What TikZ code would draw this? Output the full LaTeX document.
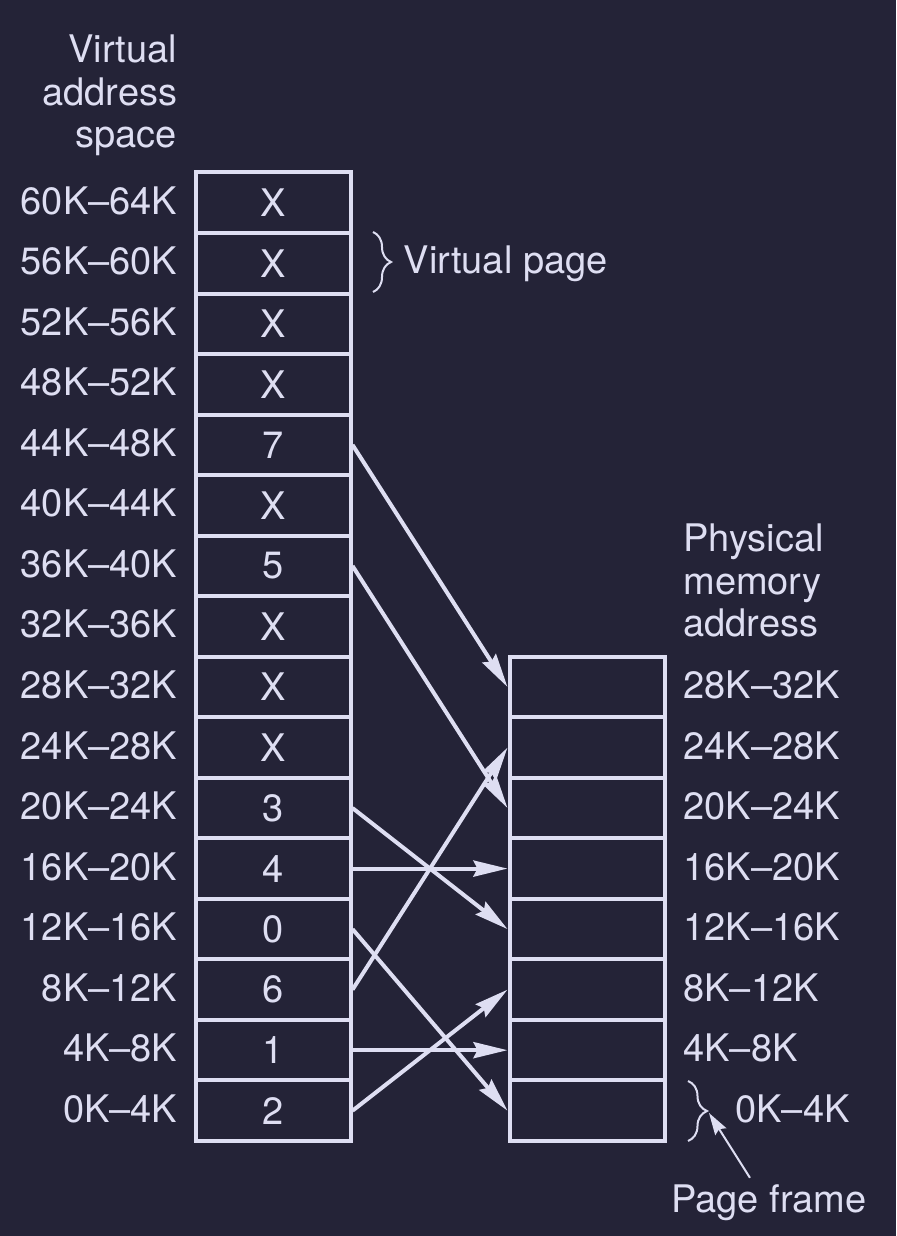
\documentclass[tikz,border=0pt]{standalone}
\usepackage{fontspec}
\setmainfont{TeX Gyre Heros}
\usetikzlibrary{arrows.meta,decorations.pathreplacing}
\definecolor{bg}{RGB}{36,35,55}
\definecolor{fg}{RGB}{222,222,242}
\begin{document}
\begin{tikzpicture}[x=0.5pt,y=-0.5pt,
  every node/.style={text=fg, font=\fontsize{19}{21.2}\selectfont},
  cell/.style={draw=fg, line width=2pt, minimum width=77.5pt, minimum height=30.265pt, inner sep=0pt},
  lbl/.style={inner sep=0pt},
  map/.style={draw=fg, line width=2pt, -{Stealth[length=17pt,width=8pt,inset=2pt]}},
  thinarrow/.style={draw=fg, line width=1pt, -{Stealth[length=11pt,width=6.5pt,inset=1.5pt]}},
  bracestyle/.style={draw=fg, line width=1pt, decorate, decoration={brace, amplitude=#1}}
]
\fill[bg] (0,0) rectangle (896,1236);
\useasboundingbox (0,0) rectangle (896,1236);

% header labels
\node[lbl, anchor=base east] (vhead) at (177.5,62.7)
  {\begin{tabular}[t]{@{}r@{}}Virtual\\address\\space\end{tabular}};
\node[lbl, anchor=base west] (phead) at (683,551.7)
  {\begin{tabular}[t]{@{}l@{}}Physical\\memory\\address\end{tabular}};

% virtual pages
\foreach \p/\t in {0/2,1/1,2/6,3/0,4/4,5/3,6/X,7/X,8/X,9/5,10/X,11/7,12/X,13/X,14/X,15/X}{
  \pgfmathsetmacro\y{1110.7-60.53*\p}
  \pgfmathtruncatemacro\lo{4*\p}
  \pgfmathtruncatemacro\hi{4*\p+4}
  \node[cell] (v\p) at (273,\y) {\t};
  \node[lbl, anchor=base east] (vl\p) at (177.5,\y+11.5) {\lo K–\hi K};
}

% page frames
\foreach \k in {0,...,7}{
  \pgfmathsetmacro\y{1110.7-60.53*\k}
  \node[cell] (f\k) at (587,\y) {};
}
\foreach \k in {1,...,7}{
  \pgfmathsetmacro\y{1110.7-60.53*\k}
  \pgfmathtruncatemacro\lo{4*\k}
  \pgfmathtruncatemacro\hi{4*\k+4}
  \node[lbl, anchor=base west] (fl\k) at (683,\y+11.5) {\lo K–\hi K};
}
\node[lbl, anchor=base west] (fl0) at (735,1122.2) {0K–4K};

% mappings
\foreach \p/\k in {0/2,1/1,2/6,3/0,4/4,5/3,9/5,11/7}{
  \draw[map] (v\p.east) -- (f\k.west);
}

% virtual page brace
\draw[bracestyle=9pt] (373,232) -- (373,292);
\node[lbl, anchor=base west] (vpage) at (403.3,273.3) {Virtual page};

% page frame brace
\draw[bracestyle=9.5pt] (688,1081) -- (688,1141);
\coordinate (pftip) at (709,1113);
\node[lbl, anchor=base west] (pf) at (671,1212) {Page frame};
\draw[thinarrow] ([xshift=-9.5pt,yshift=3pt]pf.north) -- (pftip);
\end{tikzpicture}
\end{document}
